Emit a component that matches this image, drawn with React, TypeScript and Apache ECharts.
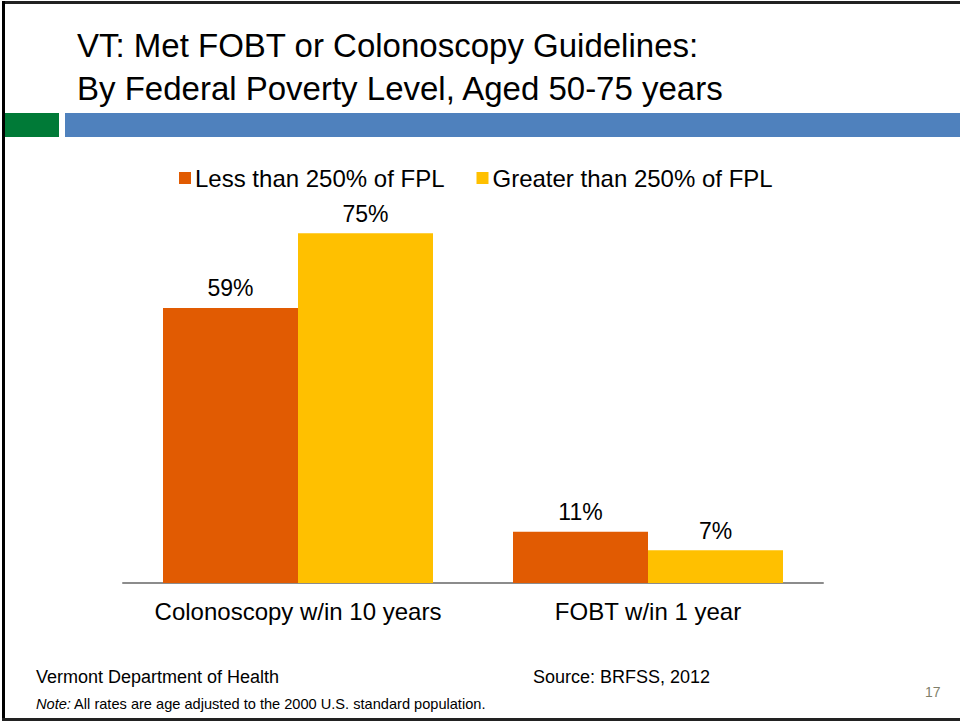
import React, { useEffect, useRef } from "react";
import * as echarts from "echarts";

const categories = ["Colonoscopy w/in 10 years", "FOBT w/in 1 year"];
const seriesNames = ["Less than 250% of FPL", "Greater than 250% of FPL"];
const lessThan250 = [59, 11];
const greaterThan250 = [75, 7];
const titleLines = ["VT: Met FOBT or Colonoscopy Guidelines:", "By Federal Poverty Level, Aged 50-75 years"];

const FONT = "Liberation Sans, Arial, sans-serif";

export default function App() {
  const ref = useRef<HTMLDivElement>(null);
  useEffect(() => {
    if (!ref.current) return;
    const chart = echarts.init(ref.current, null, { renderer: "svg" });
    const label = {
      show: true,
      position: "top",
      distance: 8,
      formatter: "{c}%",
      fontFamily: FONT,
      fontSize: 23,
      color: "#000",
    };
    chart.setOption({
      animation: false,
      backgroundColor: "#ffffff",
      textStyle: { fontFamily: FONT },
      title: {
        text: titleLines.join("\n"),
        left: 72,
        top: 19,
        textStyle: { fontFamily: FONT, fontSize: 33, fontWeight: "normal", color: "#000", lineHeight: 43 },
      },
      legend: {
        data: seriesNames,
        left: 174,
        top: 161,
        itemWidth: 12,
        itemHeight: 12,
        itemGap: 32,
        icon: "rect",
        textStyle: { fontFamily: FONT, fontSize: 24, color: "#000", padding: [0, 0, 0, -1] },
      },
      grid: { left: 123, right: 137, top: 210, height: 373, containLabel: false },
      xAxis: {
        type: "category",
        data: categories,
        axisLine: { lineStyle: { color: "#8c8c8c", width: 2 } },
        axisTick: { show: false },
        axisLabel: {
          fontFamily: FONT,
          fontSize: 24,
          color: "#000",
          margin: 16,
          interval: 0,
          hideOverlap: false,
        },
      },
      yAxis: {
        type: "value",
        min: 0,
        max: 80,
        show: false,
        splitLine: { show: false },
      },
      series: [
        {
          name: seriesNames[0],
          type: "bar",
          data: lessThan250,
          barWidth: 135,
          barGap: "0%",
          itemStyle: { color: "#E15B02" },
          label,
        },
        {
          name: seriesNames[1],
          type: "bar",
          data: greaterThan250,
          barWidth: 135,
          barGap: "0%",
          itemStyle: { color: "#FFC000" },
          label,
        },
      ],
      graphic: [
        { type: "rect", shape: { x: 2, y: 1, width: 958, height: 3 }, style: { fill: "#222" } },
        { type: "rect", shape: { x: 2, y: 1, width: 3, height: 719 }, style: { fill: "#000" } },
        { type: "rect", shape: { x: 2, y: 718, width: 958, height: 3 }, style: { fill: "#222" } },
        { type: "rect", shape: { x: 5, y: 113, width: 54, height: 24 }, style: { fill: "#007A37" } },
        { type: "rect", shape: { x: 65, y: 113, width: 895, height: 24 }, style: { fill: "#4F81BD" } },
        {
          type: "text",
          left: 36,
          top: 668,
          style: { text: "Vermont Department of Health", fontFamily: FONT, fontSize: 18, fill: "#000" },
        },
        {
          type: "text",
          left: 533,
          top: 668,
          style: { text: "Source: BRFSS, 2012", fontFamily: FONT, fontSize: 18, fill: "#000" },
        },
        {
          type: "text",
          left: 36,
          top: 696,
          style: {
            text: "{i|Note:} All rates are age adjusted to the 2000 U.S. standard population.",
            fontFamily: FONT,
            fontSize: 14.6,
            fill: "#000",
            rich: { i: { fontStyle: "italic", fontFamily: FONT, fontSize: 14.6, fill: "#000" } },
          },
        },
        {
          type: "text",
          left: 925,
          top: 685,
          style: { text: "17", fontFamily: FONT, fontSize: 14, fill: "#7f7f6a" },
        },
      ],
    });
    return () => chart.dispose();
  }, []);
  return (
    <div
      ref={ref}
      style={{ position: "fixed", left: 0, top: 0, width: 960, height: 721 }}
    />
  );
}
